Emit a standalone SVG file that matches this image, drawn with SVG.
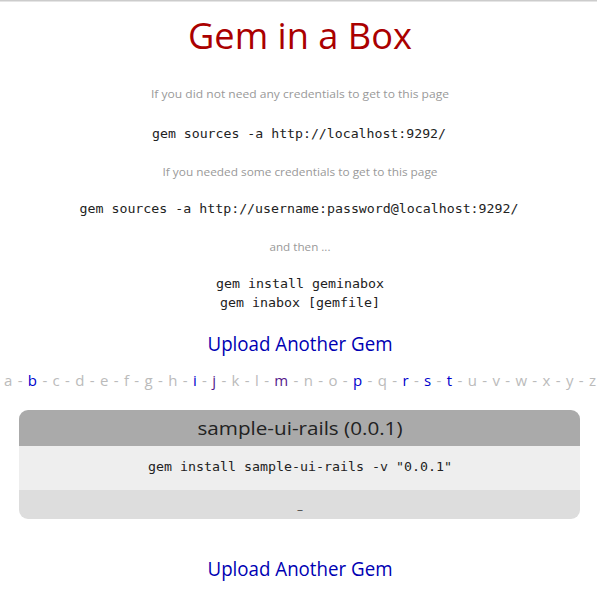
<svg xmlns="http://www.w3.org/2000/svg" width="597" height="599" viewBox="0 0 597 599">
<style>
.sans{font-family:"Open Sans","Noto Sans","DejaVu Sans",sans-serif}
.mono{font-family:"DejaVu Sans Mono","Liberation Mono",monospace;font-size:13px;fill:#222}
.note{font-size:11.5px;fill:#999}
.link{font-size:20px;fill:#0000b3}
.let{fill:#bbb}
.lk{fill:#0000cc}
.vis{fill:#551a8b}
</style>
<rect width="597" height="599" fill="#fff"/>
<rect x="0" y="0" width="597" height="1.5" fill="#ccc"/>
<g id="title"><text class="sans" x="300" y="49" text-anchor="middle" font-size="36" fill="#aa0000" textLength="224" lengthAdjust="spacingAndGlyphs">Gem in a Box</text></g>
<g id="instructions">
<text class="sans note" x="300" y="98" text-anchor="middle" textLength="298" lengthAdjust="spacingAndGlyphs">If you did not need any credentials to get to this page</text>
<text class="mono" x="299" y="138" text-anchor="middle" textLength="294" lengthAdjust="spacingAndGlyphs">gem sources -a http://localhost:9292/</text>
<text class="sans note" x="300" y="176" text-anchor="middle" textLength="275" lengthAdjust="spacingAndGlyphs">If you needed some credentials to get to this page</text>
<text class="mono" x="299" y="213" text-anchor="middle" textLength="439" lengthAdjust="spacingAndGlyphs">gem sources -a http://username:password@localhost:9292/</text>
<text class="sans note" x="300" y="251" text-anchor="middle" textLength="61" lengthAdjust="spacingAndGlyphs">and then ...</text>
<text class="mono" x="300" y="288" text-anchor="middle" textLength="168" lengthAdjust="spacingAndGlyphs">gem install geminabox</text>
<text class="mono" x="300" y="307" text-anchor="middle" textLength="160" lengthAdjust="spacingAndGlyphs">gem inabox [gemfile]</text>
</g>
<g id="upload-top"><text class="sans link" x="300" y="351" text-anchor="middle" textLength="185" lengthAdjust="spacingAndGlyphs">Upload Another Gem</text></g>
<g id="letters"><text class="sans" font-size="15" x="300" y="386" text-anchor="middle" textLength="592" lengthAdjust="spacing"><tspan class="let">a - </tspan><tspan class="lk">b</tspan><tspan class="let"> - c - d - e - f - g - h - </tspan><tspan class="lk">i</tspan><tspan class="let"> - </tspan><tspan class="vis">j</tspan><tspan class="let"> - k - l - </tspan><tspan class="vis">m</tspan><tspan class="let"> - n - o - </tspan><tspan class="lk">p</tspan><tspan class="let"> - q - </tspan><tspan class="lk">r</tspan><tspan class="let"> - </tspan><tspan class="lk">s</tspan><tspan class="let"> - </tspan><tspan class="lk">t</tspan><tspan class="let"> - u - v - w - x - y - z</tspan></text></g>
<g id="gem-box">
<defs><clipPath id="bc"><rect x="19" y="410" width="561" height="109" rx="9"/></clipPath></defs>
<g clip-path="url(#bc)">
<rect x="19" y="410" width="561" height="36" fill="#aaa"/>
<rect x="19" y="446" width="561" height="44" fill="#eee"/>
<rect x="19" y="490" width="561" height="29" fill="#ddd"/>
</g>
<text class="sans" x="300" y="435" text-anchor="middle" font-size="19" fill="#222" textLength="205" lengthAdjust="spacingAndGlyphs">sample-ui-rails (0.0.1)</text>
<text class="mono" x="300" y="471" text-anchor="middle" textLength="304" lengthAdjust="spacingAndGlyphs">gem install sample-ui-rails -v "0.0.1"</text>
<text class="sans" x="300" y="514" text-anchor="middle" font-size="12" fill="#555">–</text>
</g>
<g id="upload-bottom"><text class="sans link" x="300" y="576" text-anchor="middle" textLength="185" lengthAdjust="spacingAndGlyphs">Upload Another Gem</text></g>
</svg>
